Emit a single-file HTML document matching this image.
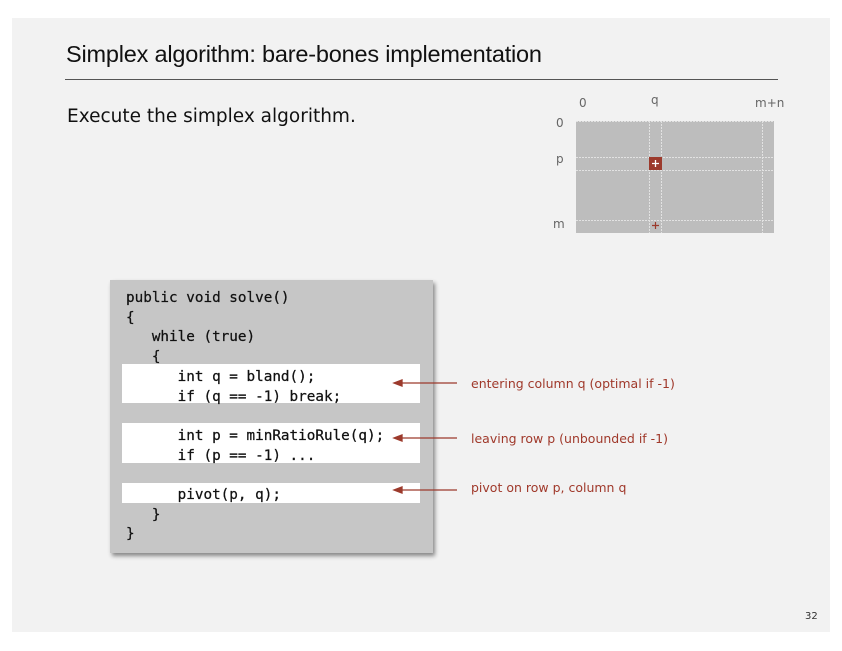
<!DOCTYPE html>
<html><head><meta charset="utf-8"><style>
body{margin:0;width:842px;height:651px;background:#fff;position:relative;overflow:hidden;font-family:"DejaVu Sans","Liberation Sans",sans-serif}
.slide{position:absolute;left:12px;top:18px;width:818px;height:614px;background:#f2f2f2}
.a{position:absolute;white-space:pre}
.code{position:absolute;left:110px;top:280px;width:323px;height:273px;background:#c6c6c6;box-shadow:2px 3px 4px #888}
.band{position:absolute;background:#fff;left:122px;width:298px}
.mono{font-family:"DejaVu Sans Mono","Liberation Mono",monospace;font-size:14.3px;color:#111}
.red{color:#a0392b;font-size:12.5px}
</style></head><body>
<div class="slide"></div>
<div class="a" style="left:66px;top:41px;font-size:23.5px;color:#111;font-family:'Liberation Sans',sans-serif;letter-spacing:-0.2px">Simplex algorithm: bare-bones implementation</div>
<div style="position:absolute;left:65px;top:79px;width:713px;height:1px;background:#555"></div>
<div class="a" style="left:67px;top:106px;font-size:18.5px;color:#111">Execute the simplex algorithm.</div>

<div class="a" style="left:579px;top:96px;font-size:12px;color:#666">0</div>
<div class="a" style="left:651px;top:93px;font-size:12px;color:#666">q</div>
<div class="a" style="left:755px;top:96px;font-size:12px;color:#666">m+n</div>
<div class="a" style="left:556px;top:116px;font-size:12px;color:#666">0</div>
<div class="a" style="left:556px;top:152px;font-size:12px;color:#666">p</div>
<div class="a" style="left:553px;top:217px;font-size:12px;color:#666">m</div>
<svg style="position:absolute;left:0;top:0" width="842" height="651">
<rect x="576" y="121" width="198" height="112" fill="#bdbdbd"/>
<g stroke="#e2e2e2" stroke-width="1" stroke-dasharray="2,1">
<line x1="649.5" y1="121" x2="649.5" y2="233"/><line x1="661.5" y1="121" x2="661.5" y2="233"/><line x1="762.5" y1="121" x2="762.5" y2="233"/>
<line x1="576" y1="157.5" x2="774" y2="157.5"/><line x1="576" y1="170.5" x2="774" y2="170.5"/><line x1="576" y1="220.5" x2="774" y2="220.5"/>
<line x1="576" y1="121.5" x2="774" y2="121.5"/>
</g>
<rect x="649" y="157" width="13" height="13" fill="#9c3a2c"/>
<path d="M655.5 160v7M652 163.5h7" stroke="#fff" stroke-width="1.3"/>
<path d="M655.5 222v7M652 225.5h7" stroke="#9c3a2c" stroke-width="1.2"/>
</svg>

<div class="code"></div>
<div class="band" style="top:364px;height:39px"></div>
<div class="band" style="top:423px;height:40px"></div>
<div class="band" style="top:483px;height:20px"></div>
<div class="a mono" style="left:126px;top:289px;line-height:19.7px;-webkit-text-stroke:0.25px #111">public void solve()
{
   while (true)
   {
      int q = bland();
      if (q == -1) break;

      int p = minRatioRule(q);
      if (p == -1) ...

      pivot(p, q);
   }
}</div>
<svg style="position:absolute;left:0;top:0" width="842" height="651">
<g stroke="#9c3a2c" stroke-width="1.3" fill="#9c3a2c">
<line x1="400" y1="383" x2="457" y2="383"/><path d="M394 383l8-3v6z"/>
<line x1="400" y1="438" x2="457" y2="438"/><path d="M394 438l8-3v6z"/>
<line x1="400" y1="490" x2="457" y2="490"/><path d="M394 490l8-3v6z"/>
</g></svg>
<div class="a red" style="left:471px;top:376px">entering column q (optimal if -1)</div>
<div class="a red" style="left:471px;top:431px">leaving row p (unbounded if -1)</div>
<div class="a red" style="left:471px;top:480px">pivot on row p, column q</div>
<div class="a" style="left:805px;top:611px;font-size:10px;color:#333">32</div>
</body></html>
